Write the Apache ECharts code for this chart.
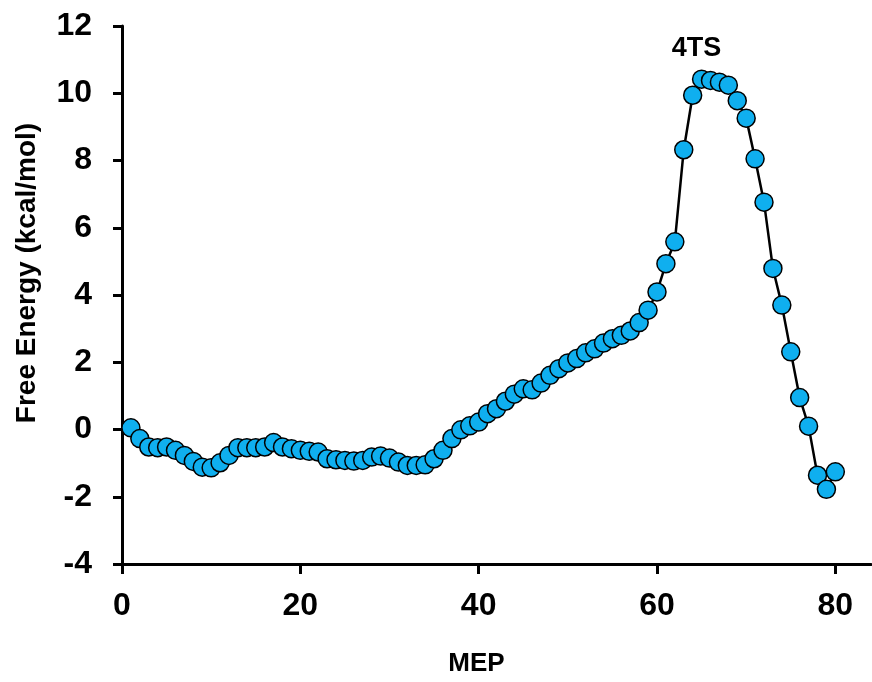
<!DOCTYPE html>
<html>
<head>
<meta charset="utf-8">
<script src="https://cdn.jsdelivr.net/npm/echarts@6/dist/echarts.min.js"></script>
<style>
  html, body { margin: 0; padding: 0; background: #fff; }
  #chart { width: 872px; height: 682px; }
</style>
</head>
<body>
<div id="chart"></div>
<script>
// MEP image index along the path
const mepSteps = [
  1, 2, 3, 4, 5, 6, 7, 8, 9, 10,
  11, 12, 13, 14, 15, 16, 17, 18, 19, 20,
  21, 22, 23, 24, 25, 26, 27, 28, 29, 30,
  31, 32, 33, 34, 35, 36, 37, 38, 39, 40,
  41, 42, 43, 44, 45, 46, 47, 48, 49, 50,
  51, 52, 53, 54, 55, 56, 57, 58, 59, 60,
  61, 62, 63, 64, 65, 66, 67, 68, 69, 70,
  71, 72, 73, 74, 75, 76, 77, 78, 79, 80
];

// Free energy at each image (kcal/mol)
const freeEnergy = [
  0.05, -0.27, -0.52, -0.54, -0.52, -0.62, -0.77, -0.95, -1.12, -1.14,
  -0.99, -0.77, -0.54, -0.54, -0.54, -0.52, -0.39, -0.52, -0.57, -0.62,
  -0.65, -0.67, -0.87, -0.90, -0.92, -0.94, -0.92, -0.82, -0.79, -0.85,
  -0.97, -1.07, -1.07, -1.05, -0.87, -0.62, -0.27, -0.01, 0.11, 0.22,
  0.47, 0.62, 0.84, 1.05, 1.21, 1.18, 1.38, 1.61, 1.81, 1.98,
  2.11, 2.28, 2.40, 2.57, 2.70, 2.80, 2.93, 3.18, 3.55, 4.09,
  4.93, 5.58, 8.32, 9.94, 10.42, 10.38, 10.33, 10.24, 9.78, 9.26,
  8.05, 6.76, 4.79, 3.70, 2.31, 0.95, 0.10, -1.36, -1.78, -1.26
];

// Axis tick values
const xTicks = [0, 20, 40, 60, 80];
const yTicks = [-4, -2, 0, 2, 4, 6, 8, 10, 12];

// Transition state annotation
const tsLabel = '4TS';
const tsIndex = 64; // image 65

const FONT = '"Liberation Sans", Arial, sans-serif';

const seriesData = mepSteps.map((x, i) => {
  const item = { value: [x, freeEnergy[i]] };
  if (i === tsIndex) {
    item.label = {
      show: true,
      formatter: tsLabel,
      position: 'top',
      distance: 7,
      offset: [-5, 0],
      color: '#000',
      fontFamily: FONT,
      fontWeight: 'bold',
      fontSize: 27
    };
  }
  return item;
});

const chart = echarts.init(document.getElementById('chart'), null, { renderer: 'canvas' });

chart.setOption({
  animation: false,
  backgroundColor: '#fff',
  grid: { left: 122, right: 1, top: 26, bottom: 116, containLabel: false },
  xAxis: {
    type: 'value',
    min: 0,
    max: 84,
    interval: 20,
    name: 'MEP',
    nameLocation: 'middle',
    nameGap: 87,
    nameTextStyle: {
      color: '#000', fontFamily: FONT, fontWeight: 'bold', fontSize: 26,
      padding: [0, 40, 0, 0]
    },
    axisLine: { show: true, onZero: false, lineStyle: { color: '#000', width: 3 } },
    axisTick: {
      show: true, inside: false, length: 10,
      customValues: xTicks,
      lineStyle: { color: '#000', width: 3 }
    },
    axisLabel: {
      show: true, margin: 26,
      customValues: xTicks,
      color: '#000', fontFamily: FONT, fontWeight: 'bold', fontSize: 32
    },
    splitLine: { show: false }
  },
  yAxis: {
    type: 'value',
    min: -4,
    max: 12,
    interval: 2,
    name: 'Free Energy (kcal/mol)',
    nameLocation: 'middle',
    nameGap: 81,
    nameTextStyle: {
      color: '#000', fontFamily: FONT, fontWeight: 'bold', fontSize: 28,
      padding: [0, 0, 0, 44]
    },
    axisLine: { show: true, onZero: false, lineStyle: { color: '#000', width: 3 } },
    axisTick: {
      show: true, inside: false, length: 9,
      customValues: yTicks,
      lineStyle: { color: '#000', width: 3 }
    },
    axisLabel: {
      show: true, margin: 30,
      customValues: yTicks,
      color: '#000', fontFamily: FONT, fontWeight: 'bold', fontSize: 32
    },
    splitLine: { show: false }
  },
  series: [{
    type: 'line',
    data: seriesData,
    smooth: false,
    symbol: 'circle',
    symbolSize: 18,
    showAllSymbol: true,
    clip: false,
    lineStyle: { color: '#000', width: 2.5 },
    itemStyle: { color: '#0FAFEF', borderColor: '#000', borderWidth: 1.5 },
    emphasis: { disabled: true }
  }]
});
</script>
</body>
</html>
